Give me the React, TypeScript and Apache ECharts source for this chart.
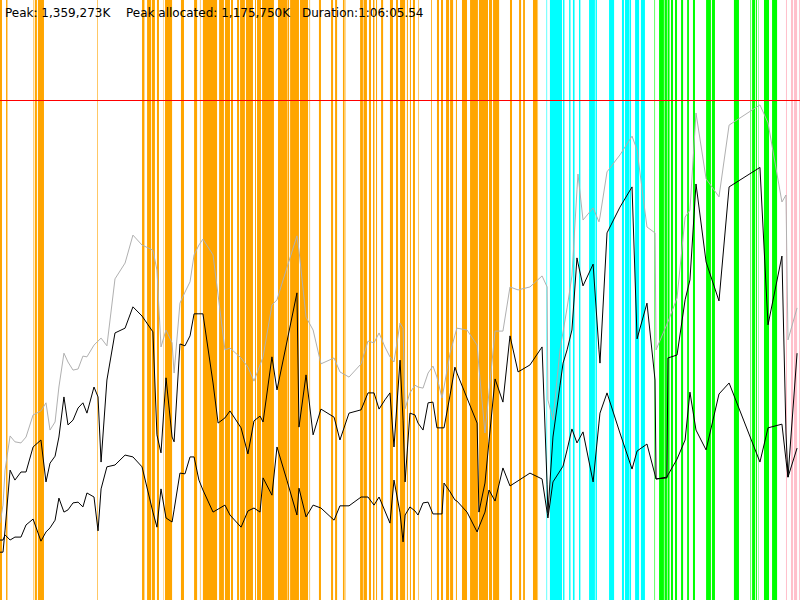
import React, { useEffect, useRef } from "react";
import * as echarts from "echarts";

// Time (seconds since start) of each heap sample
const timeSec = [0,15,25,50,74,104,129,164,203,228,248,273,292,317,337,362,387,411,431,466,486,501,530,570,620,659,704,758,778,798,823,853,863,892,917,942,962,986,1006,1056,1081,1115,1140,1195,1229,1259,1289,1304,1348,1373,1423,1472,1482,1517,1552,1591,1656,1685,1730,1790,1824,1854,1879,1908,1933,1953,1983,1998,2008,2032,2057,2072,2097,2122,2146,2166,2191,2201,2231,2255,2265,2315,2365,2374,2404,2424,2454,2493,2528,2568,2627,2687,2712,2716,2741,2776,2791,2811,2835,2860,2865,2890,2940,2969,2974,3009,3073,3133,3158,3207,3247,3252,3306,3311,3356,3396,3420,3450,3500,3564,3614,3767,3807,3876,3896,3906,3951];

// Heap committed (MB) - grey
const committedMB = [209,258,353,446,430,427,443,503,514,536,462,484,579,671,647,625,628,663,661,693,704,712,691,873,916,992,965,951,897,688,734,699,617,807,837,865,938,965,981,938,829,680,685,658,633,595,639,661,802,816,905,990,951,769,734,642,658,620,606,642,704,699,726,688,661,647,753,739,520,563,584,579,576,617,636,606,549,579,671,720,739,734,693,633,454,565,731,731,851,843,851,881,851,544,489,680,729,794,881,1115,1158,1033,1066,1028,1041,1164,1210,1261,1223,1014,998,680,750,756,821,1041,1060,1324,1145,1096,1291,1346,1297,1082,1101,707,794];

// Heap allocated (MB) - upper black
const allocatedMB = [130,130,190,353,326,348,348,416,435,321,372,391,443,552,476,489,522,536,508,579,552,375,598,726,739,797,772,729,449,400,604,443,430,696,691,718,778,778,778,590,481,495,514,468,397,487,500,484,661,571,704,835,470,612,449,519,497,435,508,517,563,563,519,544,563,416,652,489,321,508,503,481,462,536,538,468,468,468,557,633,617,549,481,239,318,432,601,538,718,620,639,688,313,237,443,584,644,680,734,930,916,854,913,680,644,998,1068,1123,710,807,598,329,332,658,666,816,870,1131,919,813,1123,1176,748,935,454,334,671];

// Live data (MB) - lower black
const liveMB = [163,163,177,163,171,171,204,220,160,185,196,217,277,239,245,264,266,253,291,280,188,302,362,367,394,389,362,239,198,302,223,212,245,345,343,389,389,326,299,239,247,258,231,198,242,250,239,332,285,416,324,231,304,226,258,250,217,256,256,280,280,258,280,242,209,326,237,158,231,253,242,231,264,266,234,234,234,318,294,272,269,239,185,198,239,299,269,359,310,324,345,329,239,223,321,351,364,408,465,427,432,457,321,481,508,563,454,356,405,424,340,329,334,340,383,435,565,462,408,560,590,375,468,478,381,334,413];

// GC pauses [start, end] in seconds, by collector kind
const youngPauses = [[0,10],[30,37],[166,169],[173,183],[188,218],[481,484],[704,716],[729,749],[753,768],[778,788],[808,810],[818,853],[897,912],[962,977],[991,994],[1006,1076],[1086,1110],[1115,1140],[1145,1155],[1175,1185],[1190,1214],[1219,1254],[1264,1269],[1274,1294],[1299,1358],[1378,1423],[1425,1433],[1438,1482],[1487,1527],[1534,1537],[1581,1591],[1641,1651],[1661,1671],[1700,1708],[1713,1715],[1785,1799],[1802,1819],[1829,1839],[1849,1856],[1864,1869],[1889,1899],[1933,1948],[1963,1973],[1983,2008],[2017,2022],[2032,2037],[2047,2057],[2074,2077],[2137,2141],[2166,2176],[2186,2196],[2211,2226],[2231,2246],[2260,2265],[2290,2315],[2330,2369],[2374,2419],[2424,2439],[2444,2474],[2528,2538],[2573,2583],[2593,2602],[2642,2662],[2664,2667]];
const concurrentPauses = [[2709,2712],[2726,2786],[2791,2798],[2821,2828],[2840,2848],[2870,2877],[2920,2949],[2952,2959],[3019,3044],[3083,3093],[3098,3118],[3120,3128],[3148,3168],[3177,3197]];
const mixedPauses = [[3244,3247],[3267,3291],[3294,3306],[3309,3319],[3326,3336],[3346,3356],[3376,3386],[3406,3415],[3435,3445],[3500,3524],[3529,3544],[3638,3663],[3720,3723],[3728,3743],[3747,3752],[3760,3762],[3787,3812],[3827,3852]];
const fullPauses = [[3896,3901],[3921,3931],[3936,3951],[3961,3966]];

const headerTexts = ["Peak: 1,359,273K", "Peak allocated: 1,175,750K", "Duration:1:06:05.54"];
const PEAK_MB = 1359.273;
const DURATION_SEC = 3965.54;
const Y_MAX_MB = 1631.13;

function pauseSeries(name: string, data: number[][], color: string) {
  return {
    type: "custom",
    name,
    silent: true,
    z: 1,
    encode: { x: [0, 1] },
    data,
    renderItem: (params: any, api: any) => {
      const s = api.coord([api.value(0), 0]);
      const e = api.coord([api.value(1), 0]);
      const cs = params.coordSys;
      return {
        type: "rect",
        shape: { x: s[0], y: cs.y, width: Math.max(e[0] - s[0], 0.3), height: cs.height },
        style: { fill: color },
      };
    },
  };
}

export default function App() {
  const ref = useRef<HTMLDivElement>(null);
  useEffect(() => {
    if (!ref.current) return;
    const chart = echarts.init(ref.current, undefined, { renderer: "svg" });
    const pairs = (arr: number[]) => timeSec.map((t, i) => [t, arr[i]]);
    const xs = [5, 126, 302];
    chart.setOption({
      animation: false,
      backgroundColor: "#ffffff",
      grid: { left: 0, right: 0, top: 0, bottom: 0, containLabel: false },
      xAxis: { type: "value", min: 0, max: DURATION_SEC, show: false },
      yAxis: { type: "value", min: 0, max: Y_MAX_MB, show: false },
      graphic: headerTexts.map((t, i) => ({
        type: "text",
        left: xs[i],
        top: 7,
        z: 100,
        style: { text: t, font: '12px "DejaVu Sans"', fill: "#000000" },
      })),
      series: [
        pauseSeries("young", youngPauses, "#ffa500"),
        pauseSeries("concurrent", concurrentPauses, "#00ffff"),
        pauseSeries("mixed", mixedPauses, "#00ff00"),
        pauseSeries("full", fullPauses, "#ffc0cb"),
        {
          type: "line",
          name: "committed",
          data: pairs(committedMB),
          showSymbol: false,
          silent: true,
          z: 3,
          lineStyle: { color: "#b0b0b0", width: 1 },
        },
        {
          type: "line",
          name: "allocated",
          data: pairs(allocatedMB),
          showSymbol: false,
          silent: true,
          z: 4,
          lineStyle: { color: "#000000", width: 1 },
          markLine: {
            silent: true,
            symbol: "none",
            label: { show: false },
            lineStyle: { color: "#ff0000", width: 1, type: "solid" },
            data: [{ yAxis: PEAK_MB }],
          },
        },
        {
          type: "line",
          name: "live",
          data: pairs(liveMB),
          showSymbol: false,
          silent: true,
          z: 4,
          lineStyle: { color: "#000000", width: 1 },
        },
      ],
    });
    return () => chart.dispose();
  }, []);
  return <div ref={ref} style={{ position: "absolute", left: 0, top: 0, width: 800, height: 600 }} />;
}
